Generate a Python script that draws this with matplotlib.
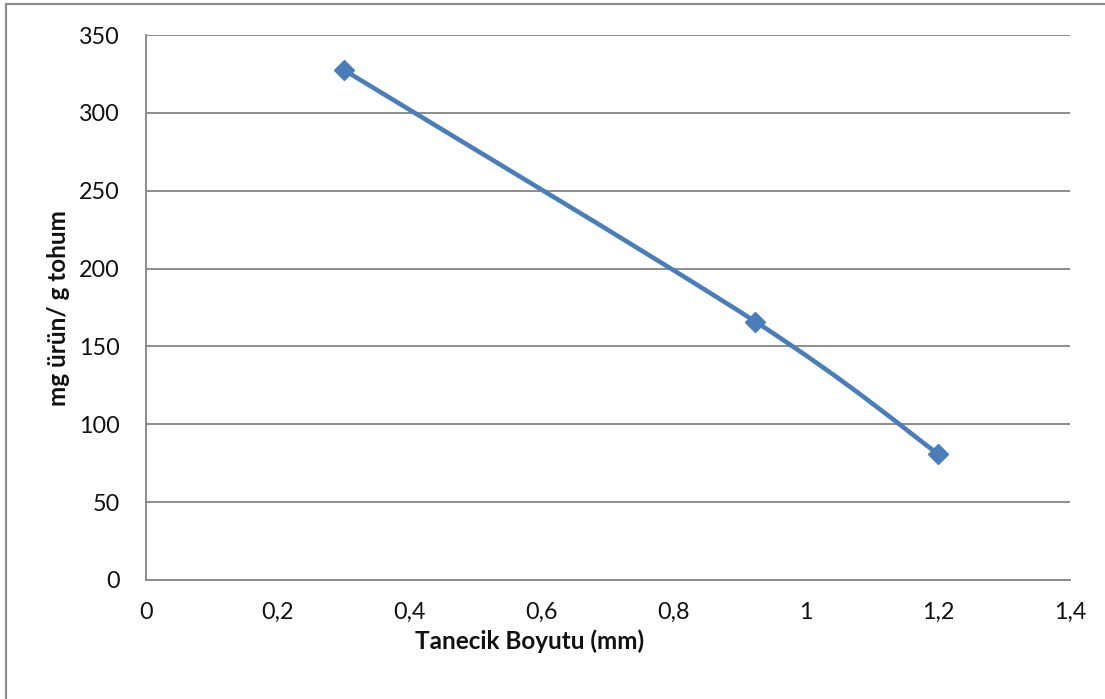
import matplotlib
matplotlib.use("Agg")
import matplotlib.pyplot as plt
from matplotlib.path import Path
from matplotlib.patches import PathPatch, Rectangle
from matplotlib.ticker import FuncFormatter
import numpy as np

plt.rcParams['font.family'] = ['Lato', 'DejaVu Sans']

# particle size (mm) vs. product yield (mg product / g seed)
particle_size = [0.3, 0.923, 1.2]
yield_mg = [327.5, 166, 81]

x_ticks = [0, 0.2, 0.4, 0.6, 0.8, 1.0, 1.2, 1.4]
y_ticks = [0, 50, 100, 150, 200, 250, 300, 350]
x_label = "Tanecik Boyutu (mm)"
y_label = "mg ürün/ g tohum"

line_color = "#4A7EBB"
grid_color = "#8C8C8C"

fig = plt.figure(figsize=(11.05, 6.99), dpi=100)
ax = fig.add_axes([146 / 1105, 1 - 580 / 699, (1070 - 146) / 1105, (580 - 35) / 699])

ax.set_xlim(0, 1.4)
ax.set_ylim(0, 350)
ax.set_xticks(x_ticks)
ax.set_yticks(y_ticks)

def comma_fmt(v, pos):
    s = f"{v:.1f}".rstrip("0").rstrip(".")
    return s.replace(".", ",")

ax.xaxis.set_major_formatter(FuncFormatter(comma_fmt))
ax.yaxis.set_major_formatter(FuncFormatter(comma_fmt))
ax.tick_params(axis='both', length=0, labelsize=16.8, labelcolor="#111111")
ax.tick_params(axis='x', pad=16)
ax.tick_params(axis='y', pad=19)

ax.grid(axis='y', color=grid_color, linewidth=1.4)
ax.set_axisbelow(True)
for side in ("top", "right"):
    ax.spines[side].set_visible(False)
for side in ("left", "bottom"):
    ax.spines[side].set_color(grid_color)
    ax.spines[side].set_linewidth(1.4)

# smoothed connecting curve (Catmull-Rom segments as cubic Beziers)
pts = np.column_stack([particle_size, yield_mg]).astype(float)
n = len(pts)
verts = [tuple(pts[0])]
codes = [Path.MOVETO]
for i in range(n - 1):
    p_prev = pts[i - 1] if i > 0 else pts[i]
    p0, p1 = pts[i], pts[i + 1]
    p_next = pts[i + 2] if i + 2 < n else pts[i + 1]
    c1 = p0 + (p1 - p_prev) / 6.0
    c2 = p1 - (p_next - p0) / 6.0
    verts += [tuple(c1), tuple(c2), tuple(p1)]
    codes += [Path.CURVE4] * 3
curve = PathPatch(Path(verts, codes), facecolor="none", edgecolor=line_color,
                  linewidth=3.3, capstyle="round", zorder=3)
ax.add_patch(curve)

ax.plot(particle_size, yield_mg, linestyle="none", marker="D", markersize=10,
        color=line_color, markeredgecolor=line_color, zorder=4)

fig.text(530 / 1105, 1 - 641 / 699, x_label, ha="center", va="center",
         fontsize=17.5, fontweight="bold", color="#111111")
fig.text(58 / 1105, 1 - 308 / 699, y_label, ha="center", va="center",
         rotation=90, fontsize=17.5, fontweight="bold", color="#111111")

# outer chart frame
fig.patches.append(Rectangle((6 / 1105, -0.1), 1.2, 1 - 4 / 699 + 0.1,
                             transform=fig.transFigure, fill=False,
                             edgecolor="#8C8C8C", linewidth=1.6))

fig.savefig("out.png", dpi=100, facecolor="white")
